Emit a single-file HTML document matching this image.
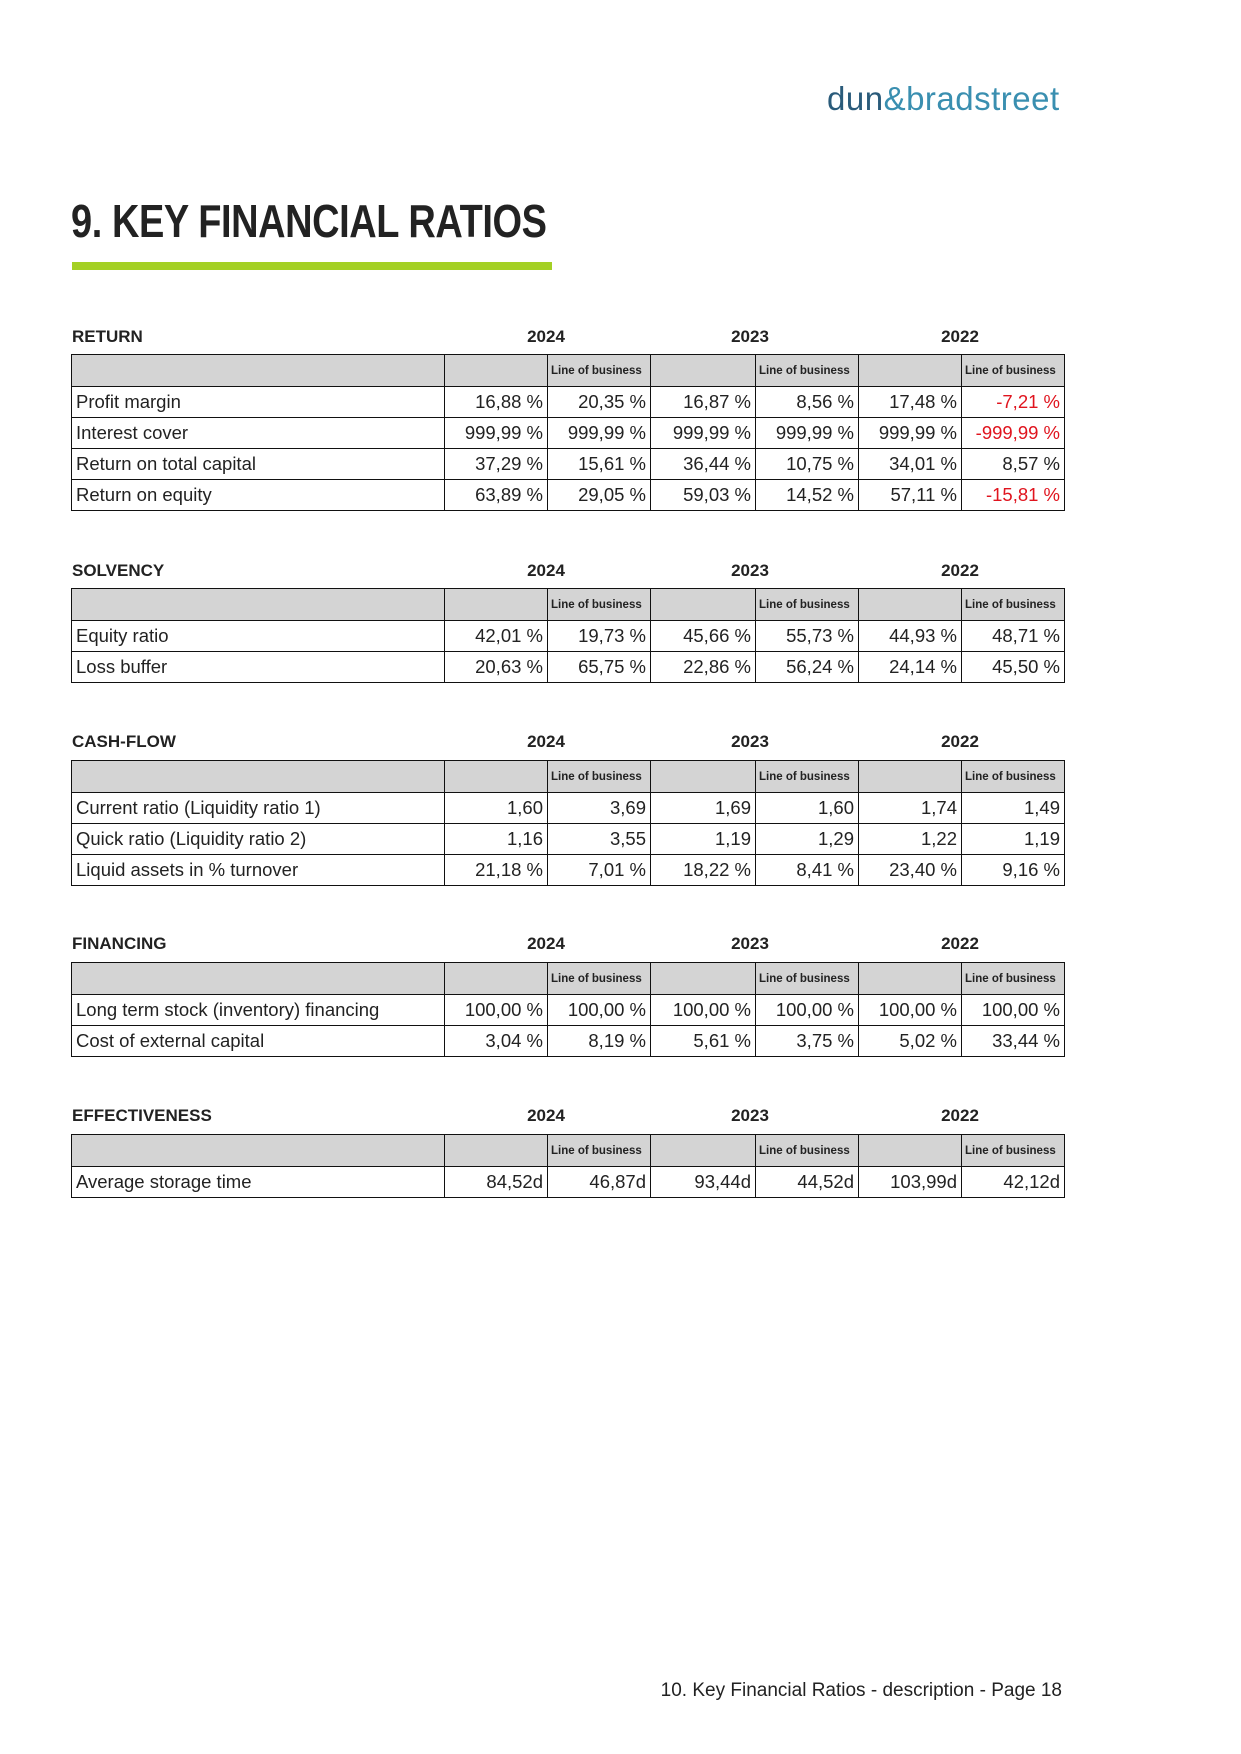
<!DOCTYPE html>
<html><head><meta charset="utf-8"><style>
body{margin:0;width:1241px;height:1754px;position:relative;background:#fff;font-family:"Liberation Sans",Arial,sans-serif;color:#222;}
.logo{position:absolute;left:827px;top:80px;font-size:33px;color:#2a5b7a;letter-spacing:0.5px;}
.logo span{color:#3a8fb0}
.title{position:absolute;left:71px;top:194px;font-size:46px;font-weight:bold;color:#222;transform:scaleX(0.825);transform-origin:left top;white-space:nowrap;letter-spacing:-0.5px}
.bar{position:absolute;left:72px;top:262px;width:480px;height:8px;background:#a4d024}
.sec{position:absolute;left:72px;font-size:17px;font-weight:bold;}
.yr{position:absolute;font-size:17px;font-weight:bold;transform:translateX(-50%)}
table{position:absolute;left:71px;border-collapse:collapse;width:993px;table-layout:fixed}
td{border:1.3px solid #111;font-size:18.5px;padding:0 4px;text-align:right;height:30px;white-space:nowrap;overflow:hidden}
td:first-child{text-align:left;width:364px}
tr.h td{background:#d4d4d4;height:31px;font-size:11.5px;font-weight:bold;text-align:left;padding:0 3px}
.r{color:#e0141e}
.foot{position:absolute;right:179px;top:1680px;font-size:19px}
</style></head><body>
<div class="logo">dun<span>&amp;</span><span>bradstreet</span></div>
<div class="title">9. KEY FINANCIAL RATIOS</div>
<div class="bar"></div>

<div class="sec" style="top:327px">RETURN</div>
<div class="yr" style="left:546px;top:327px">2024</div><div class="yr" style="left:750px;top:327px">2023</div><div class="yr" style="left:960px;top:327px">2022</div>
<table style="top:354px"><colgroup><col style="width:373px"><col style="width:103px"><col style="width:103px"><col style="width:105px"><col style="width:103px"><col style="width:103px"><col style="width:103px"></colgroup>
<tr class="h"><td></td><td></td><td>Line of business</td><td></td><td>Line of business</td><td></td><td>Line of business</td></tr>
<tr><td>Profit margin</td><td>16,88 %</td><td>20,35 %</td><td>16,87 %</td><td>8,56 %</td><td>17,48 %</td><td class="r">-7,21 %</td></tr>
<tr><td>Interest cover</td><td>999,99 %</td><td>999,99 %</td><td>999,99 %</td><td>999,99 %</td><td>999,99 %</td><td class="r">-999,99 %</td></tr>
<tr><td>Return on total capital</td><td>37,29 %</td><td>15,61 %</td><td>36,44 %</td><td>10,75 %</td><td>34,01 %</td><td>8,57 %</td></tr>
<tr><td>Return on equity</td><td>63,89 %</td><td>29,05 %</td><td>59,03 %</td><td>14,52 %</td><td>57,11 %</td><td class="r">-15,81 %</td></tr>
</table>

<div class="sec" style="top:561px">SOLVENCY</div>
<div class="yr" style="left:546px;top:561px">2024</div><div class="yr" style="left:750px;top:561px">2023</div><div class="yr" style="left:960px;top:561px">2022</div>
<table style="top:588px"><colgroup><col style="width:373px"><col style="width:103px"><col style="width:103px"><col style="width:105px"><col style="width:103px"><col style="width:103px"><col style="width:103px"></colgroup>
<tr class="h"><td></td><td></td><td>Line of business</td><td></td><td>Line of business</td><td></td><td>Line of business</td></tr>
<tr><td>Equity ratio</td><td>42,01 %</td><td>19,73 %</td><td>45,66 %</td><td>55,73 %</td><td>44,93 %</td><td>48,71 %</td></tr>
<tr><td>Loss buffer</td><td>20,63 %</td><td>65,75 %</td><td>22,86 %</td><td>56,24 %</td><td>24,14 %</td><td>45,50 %</td></tr>
</table>

<div class="sec" style="top:732px">CASH-FLOW</div>
<div class="yr" style="left:546px;top:732px">2024</div><div class="yr" style="left:750px;top:732px">2023</div><div class="yr" style="left:960px;top:732px">2022</div>
<table style="top:760px"><colgroup><col style="width:373px"><col style="width:103px"><col style="width:103px"><col style="width:105px"><col style="width:103px"><col style="width:103px"><col style="width:103px"></colgroup>
<tr class="h"><td></td><td></td><td>Line of business</td><td></td><td>Line of business</td><td></td><td>Line of business</td></tr>
<tr><td>Current ratio (Liquidity ratio 1)</td><td>1,60</td><td>3,69</td><td>1,69</td><td>1,60</td><td>1,74</td><td>1,49</td></tr>
<tr><td>Quick ratio (Liquidity ratio 2)</td><td>1,16</td><td>3,55</td><td>1,19</td><td>1,29</td><td>1,22</td><td>1,19</td></tr>
<tr><td>Liquid assets in % turnover</td><td>21,18 %</td><td>7,01 %</td><td>18,22 %</td><td>8,41 %</td><td>23,40 %</td><td>9,16 %</td></tr>
</table>

<div class="sec" style="top:934px">FINANCING</div>
<div class="yr" style="left:546px;top:934px">2024</div><div class="yr" style="left:750px;top:934px">2023</div><div class="yr" style="left:960px;top:934px">2022</div>
<table style="top:962px"><colgroup><col style="width:373px"><col style="width:103px"><col style="width:103px"><col style="width:105px"><col style="width:103px"><col style="width:103px"><col style="width:103px"></colgroup>
<tr class="h"><td></td><td></td><td>Line of business</td><td></td><td>Line of business</td><td></td><td>Line of business</td></tr>
<tr><td>Long term stock (inventory) financing</td><td>100,00 %</td><td>100,00 %</td><td>100,00 %</td><td>100,00 %</td><td>100,00 %</td><td>100,00 %</td></tr>
<tr><td>Cost of external capital</td><td>3,04 %</td><td>8,19 %</td><td>5,61 %</td><td>3,75 %</td><td>5,02 %</td><td>33,44 %</td></tr>
</table>

<div class="sec" style="top:1106px">EFFECTIVENESS</div>
<div class="yr" style="left:546px;top:1106px">2024</div><div class="yr" style="left:750px;top:1106px">2023</div><div class="yr" style="left:960px;top:1106px">2022</div>
<table style="top:1134px"><colgroup><col style="width:373px"><col style="width:103px"><col style="width:103px"><col style="width:105px"><col style="width:103px"><col style="width:103px"><col style="width:103px"></colgroup>
<tr class="h"><td></td><td></td><td>Line of business</td><td></td><td>Line of business</td><td></td><td>Line of business</td></tr>
<tr><td>Average storage time</td><td>84,52d</td><td>46,87d</td><td>93,44d</td><td>44,52d</td><td>103,99d</td><td>42,12d</td></tr>
</table>

<div class="foot">10. Key Financial Ratios - description - Page 18</div>
</body></html>
